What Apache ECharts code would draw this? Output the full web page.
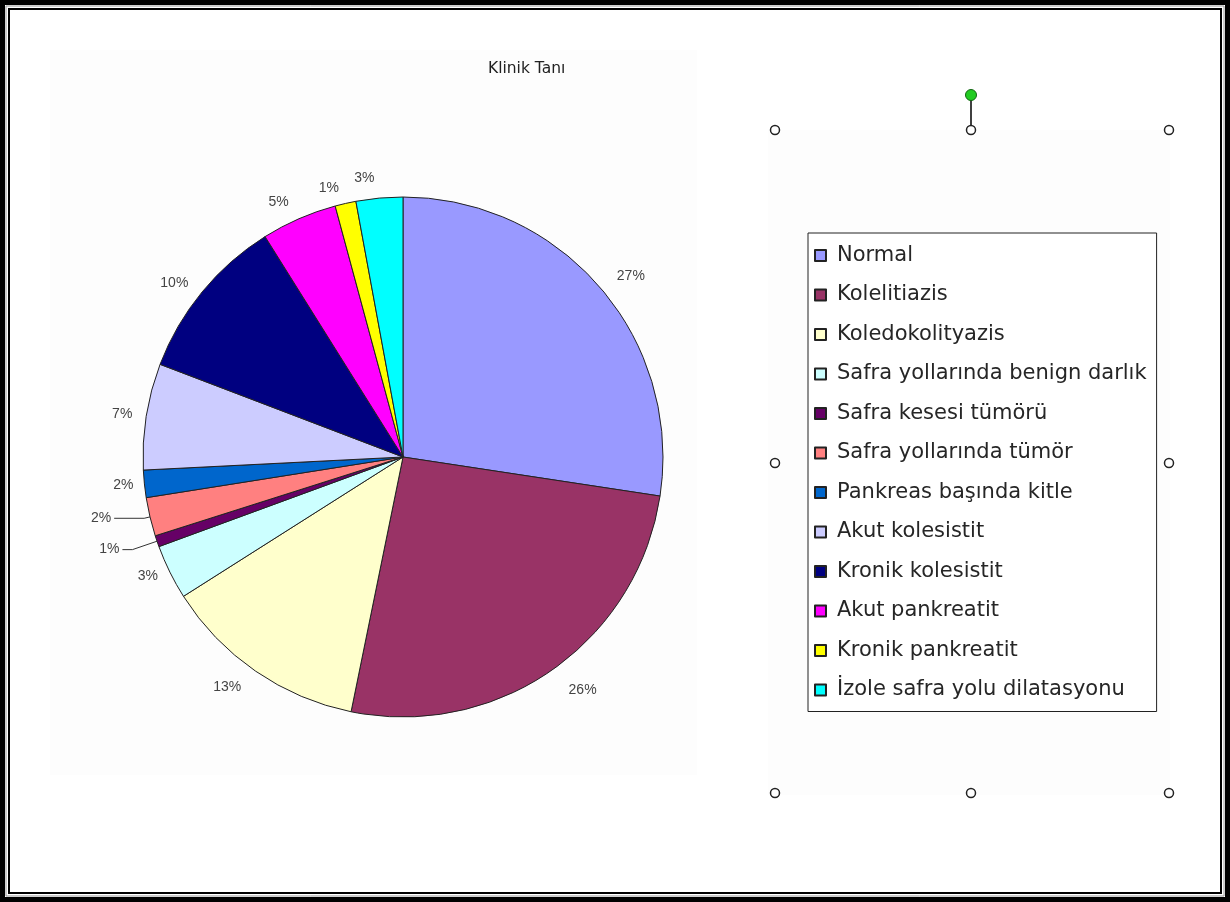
<!DOCTYPE html>
<html>
<head>
<meta charset="utf-8">
<script src="https://cdn.jsdelivr.net/npm/echarts@6/dist/echarts.min.js"></script>
<style>
  html, body { margin: 0; padding: 0; background: #fff; }
  #chart { width: 1230px; height: 902px; }
</style>
</head>
<body>
<div id="chart"></div>
<script>
// kategoriler ve dilim degerleri (% olarak)
const categories = [
  'Normal', 'Kolelitiazis', 'Koledokolityazis', 'Safra yollarında benign darlık',
  'Safra kesesi tümörü', 'Safra yollarında tümör', 'Pankreas başında kitle',
  'Akut kolesistit', 'Kronik kolesistit', 'Akut pankreatit', 'Kronik pankreatit',
  'İzole safra yolu dilatasyonu'
];
const values = [27.4, 25.8, 12.8, 3.4, 0.7, 2.4, 1.7, 6.6, 10.3, 4.7, 1.3, 2.9];
const colors = ['#9999FF', '#993366', '#FFFFCC', '#CCFFFF', '#660066', '#FF8080',
  '#0066CC', '#CCCCFF', '#000080', '#FF00FF', '#FFFF00', '#00FFFF'];

const font = 'Arial, "Liberation Sans", sans-serif';
const wideFont = '"DejaVu Sans", Verdana, sans-serif';

let chart = echarts.init(document.getElementById('chart'));

// etiket mesafesi (dilime gore ayarlandi)
const labelLen = [18, 24, 20, 10, 14, 4, 8, 11, 14, 18, 16, 20];

let pieData = categories.map((name, i) => {
  let item = {
    name: name, value: values[i], itemStyle: { color: colors[i] },
    labelLine: { show: false, length: labelLen[i], length2: 0 }
  };
  // kucuk dilimlerde kilavuz cizgisi var
  if (i === 4) item.labelLine = { show: true, length: 26, length2: 10, lineStyle: { color: '#333' } };
  if (i === 5) item.labelLine = { show: true, length: 6, length2: 30, lineStyle: { color: '#333' } };
  return item;
});

// secim tutamaclari (Excel secimi)
const handles = [[775, 130], [971, 130], [1169, 130], [775, 463], [1169, 463], [775, 793], [971, 793], [1169, 793]];

let option = {
  backgroundColor: '#fff',
  animation: false,
  title: {
    text: 'Klinik Tanı',
    left: 488,
    top: 61,
    padding: 0,
    textStyle: { fontFamily: wideFont, fontSize: 15.5, fontWeight: 'normal', color: '#222' }
  },
  legend: {
    orient: 'vertical',
    left: 808,
    top: 233,
    padding: [12, 10, 11, 6],
    itemWidth: 11,
    itemHeight: 11,
    itemGap: 18.5,
    icon: 'rect',
    data: categories,
    backgroundColor: '#fff',
    borderColor: '#222',
    borderWidth: 1,
    borderRadius: 0,
    textStyle: { fontFamily: wideFont, fontSize: 21, lineHeight: 20, color: '#262626', padding: [0, 0, 0, 6] }
  },
  graphic: [
    { type: 'rect', silent: true, z: -10, shape: { x: 50, y: 50, width: 647, height: 725 }, style: { fill: '#fdfdfd' } },
    { type: 'rect', silent: true, z: -10, shape: { x: 768, y: 130, width: 402, height: 665 }, style: { fill: '#fdfdfd' } },
    { type: 'rect', silent: true, z: 100, shape: { x: 2.5, y: 2.5, width: 1225, height: 897 }, style: { fill: 'none', stroke: '#000', lineWidth: 5 } },
    { type: 'rect', silent: true, z: 100, shape: { x: 6, y: 6, width: 1218, height: 890 }, style: { fill: 'none', stroke: '#999', lineWidth: 1 } },
    { type: 'rect', silent: true, z: 100, shape: { x: 9, y: 9, width: 1212, height: 884 }, style: { fill: 'none', stroke: '#000', lineWidth: 2 } },
    { type: 'line', silent: true, z: 100, shape: { x1: 971, y1: 100, x2: 971, y2: 126 }, style: { stroke: '#000', lineWidth: 1.5 } },
    { type: 'circle', silent: true, z: 101, shape: { cx: 971, cy: 95, r: 5.5 }, style: { fill: '#22cc22', stroke: '#116611', lineWidth: 1 } }
  ].concat(handles.map(h => ({
    type: 'circle', silent: true, z: 101, shape: { cx: h[0], cy: h[1], r: 4.5 },
    style: { fill: '#fff', stroke: '#222', lineWidth: 1.5 }
  }))),
  series: [{
    type: 'pie',
    center: [403, 457],
    radius: 260,
    startAngle: 90,
    clockwise: true,
    avoidLabelOverlap: false,
    data: pieData,
    itemStyle: { borderColor: '#222', borderWidth: 1 },
    label: {
      show: true,
      position: 'outside',
      fontFamily: font,
      fontSize: 14,
      color: '#444',
      distanceToLabelLine: 3,
      formatter: p => Math.round(p.percent) + '%'
    },
    emphasis: { disabled: true }
  }]
};

chart.setOption(option);
</script>
</body>
</html>
